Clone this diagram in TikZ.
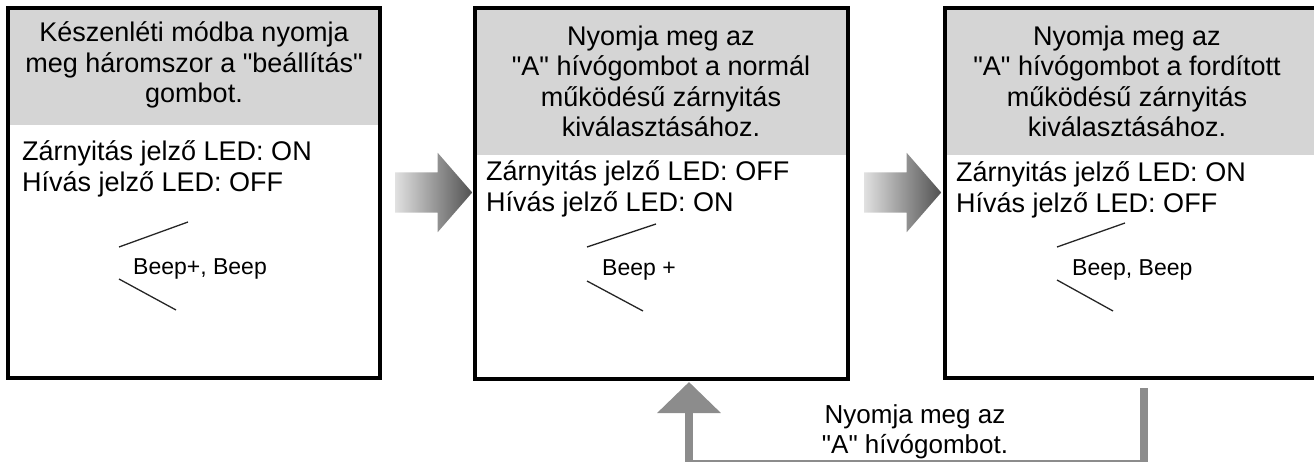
\documentclass[tikz,border=0pt]{standalone}
\usepackage{fontspec}
\setmainfont{Liberation Sans}
\newfontfamily\lsans{Liberation Sans}
\usetikzlibrary{shapes.arrows,arrows.meta}
\definecolor{hdrgray}{RGB}{213,213,213}
\definecolor{retgray}{RGB}{140,140,140}
\tikzset{
  box/.style={draw,line width=3.5pt,inner sep=0,outer sep=0,anchor=north west},
  hdr/.style={anchor=base,align=center,inner sep=0,font=\lsans\fontsize{27}{30.5}\selectfont},
  led/.style={anchor=base west,align=left,inner sep=0,font=\lsans\fontsize{27}{31}\selectfont},
  beep/.style={anchor=base west,inner sep=0,font=\lsans\fontsize{23}{26}\selectfont},
  tick/.style={line width=1.3pt,black!85},
  bigarrow/.style={single arrow,anchor=tail,inner xsep=0,inner ysep=20pt,draw=none,
    minimum height=77pt,minimum width=79pt,
    single arrow head extend=19.5pt,single arrow tip angle=98,
    left color=black!12,right color=black!68},
  back/.style={line width=7.5pt,retgray,-{Triangle[width=62pt,length=31pt]}}
}
\begin{document}
\begin{tikzpicture}[x=1pt,y=-1pt]
\useasboundingbox (0,0) rectangle (1314,462);
\clip (0,0) rectangle (1314,462);

\fill[hdrgray] (8,8) rectangle (380,125);
\fill[hdrgray] (475,8) rectangle (848,155);
\fill[hdrgray] (945,8) rectangle (1330,155);

\node[name=b1,box,minimum width=372pt,minimum height=370pt] at (8,8) {};
\node[name=b2,box,minimum width=373pt,minimum height=371pt] at (475,8) {};
\node[name=b3,box,minimum width=385pt,minimum height=370pt] at (945,8) {};

\node[name=h1,hdr] at (194,103) {Készenléti módba nyomja\\meg háromszor a "beállítás"\\gombot.};
\node[name=h2,hdr] at (661,137) {Nyomja meg az\\"A" hívógombot a normál\\működésű zárnyitás\\kiválasztásához.};
\node[name=h3,hdr] at (1127,137) {Nyomja meg az\\"A" hívógombot a fordított\\működésű zárnyitás\\kiválasztásához.};

\node[name=s1,led] at (22,192) {Zárnyitás jelző LED: ON\\Hívás jelző LED: OFF};
\node[name=s2,led] at (486,212) {Zárnyitás jelző LED: OFF\\Hívás jelző LED: ON};
\node[name=s3,led] at (956,213) {Zárnyitás jelző LED: ON\\Hívás jelző LED: OFF};

\node[name=p1,beep] at (133,275) {Beep+, Beep};
\node[name=p2,beep] at (602,276) {Beep +};
\node[name=p3,beep] at (1072,276) {Beep, Beep};

\draw[tick] (119,247) -- (188,222);
\draw[tick] (119,279) -- (176,310);
\draw[tick] (587,247) -- (656,224);
\draw[tick] (587,281) -- (643,311);
\draw[tick] (1057,247) -- (1125,223);
\draw[tick] (1057,280) -- (1113,311);

\node[name=a1,bigarrow] at (395,192.5) {};
\node[name=a2,bigarrow] at (864,192.5) {};

\coordinate (r) at (1144,388);
\coordinate (u) at (689,382);
\draw[back] (r) -- (1144,463.5) -| (u);

\node[name=t1,hdr,font=\lsans\fontsize{26}{30}\selectfont] at (915,453) {Nyomja meg az\\"A" hívógombot.};
\end{tikzpicture}
\end{document}
